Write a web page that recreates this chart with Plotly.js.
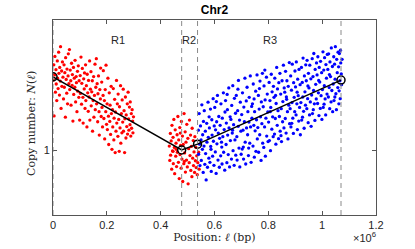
<!DOCTYPE html>
<html>
<head>
<meta charset="utf-8">
<script src="https://cdn.plot.ly/plotly-3.0.1.min.js"></script>
<style>html,body{margin:0;padding:0;background:#fff;}#chart{width:415px;height:249px;}</style>
</head>
<body>
<div id="chart"></div>
<script>
// Positions in units of 10^6 bp; copy number values
const r1 = [[0.001,1.215],[0.003,1.262],[0.004,1.105],[0.006,1.231],[0.007,1.288],[0.009,1.178],[0.011,1.247],[0.012,1.203],[0.014,1.152],[0.016,1.274],[0.017,1.221],[0.019,1.189],
[0.021,1.301],[0.022,1.236],[0.024,1.169],[0.025,1.254],[0.027,1.212],[0.028,1.318],[0.030,1.128],[0.032,1.243],[0.033,1.196],[0.035,1.271],[0.037,1.224],[0.039,1.157],
[0.041,1.262],[0.042,1.193],[0.044,1.238],[0.046,1.101],[0.047,1.284],[0.049,1.217],[0.051,1.175],[0.052,1.249],[0.054,1.142],[0.056,1.228],[0.057,1.296],[0.059,1.204],
[0.061,1.309],[0.062,1.186],[0.064,1.246],[0.066,1.213],[0.067,1.138],[0.069,1.267],[0.071,1.199],[0.072,1.232],[0.074,1.089],[0.076,1.254],[0.077,1.171],[0.079,1.221],
[0.081,1.193],[0.082,1.276],[0.084,1.148],[0.086,1.226],[0.087,1.207],[0.089,1.118],[0.091,1.242],[0.092,1.181],[0.094,1.259],[0.096,1.162],[0.097,1.213],[0.099,1.092],
[0.101,1.229],[0.102,1.174],[0.104,1.286],[0.106,1.141],[0.107,1.205],[0.109,1.251],[0.111,1.162],[0.112,1.083],[0.114,1.219],[0.116,1.188],[0.117,1.237],[0.119,1.128],
[0.121,1.262],[0.122,1.152],[0.124,1.198],[0.126,1.071],[0.127,1.233],[0.129,1.176],[0.131,1.119],[0.132,1.214],[0.134,1.163],[0.136,1.274],[0.137,1.092],[0.139,1.187],
[0.141,1.241],[0.142,1.136],[0.144,1.179],[0.146,1.213],[0.147,1.058],[0.149,1.152],[0.151,1.226],[0.152,1.101],[0.154,1.168],[0.156,1.264],[0.157,1.124],[0.159,1.193],
[0.161,1.281],[0.162,1.142],[0.164,1.204],[0.166,1.087],[0.167,1.173],[0.169,1.228],[0.171,1.118],[0.172,1.046],[0.174,1.186],[0.176,1.157],[0.177,1.252],[0.179,1.103],
[0.181,1.209],[0.182,1.131],[0.184,1.071],[0.186,1.168],[0.187,1.244],[0.189,1.097],[0.191,1.152],[0.192,1.034],[0.194,1.186],[0.196,1.118],[0.197,1.261],[0.199,1.079],
[0.201,1.142],[0.202,1.063],[0.204,1.221],[0.206,1.104],[0.207,1.017],[0.209,1.176],[0.211,1.088],[0.212,1.138],[0.214,1.048],[0.216,1.196],[0.217,1.112],[0.219,1.002],
[0.221,1.124],[0.222,1.071],[0.224,1.189],[0.226,1.031],[0.227,1.098],[0.229,1.156],[0.231,0.992],[0.232,1.117],[0.234,1.058],[0.236,1.214],[0.237,1.083],[0.239,1.142],
[0.241,1.042],[0.242,1.172],[0.244,1.094],[0.246,0.996],[0.247,1.133],[0.249,1.068],[0.251,1.198],[0.252,1.021],[0.254,1.112],[0.256,1.053],[0.257,1.154],[0.259,1.086],
[0.261,1.187],[0.262,1.058],[0.264,1.121],[0.266,0.992],[0.267,1.096],[0.269,1.163],[0.271,1.037],[0.272,1.108],[0.274,1.072],[0.276,1.142],[0.277,1.049],[0.279,1.178],
[0.281,1.096],[0.282,1.061],[0.284,1.132],[0.286,1.078],[0.287,1.148],[0.289,1.043],[0.291,1.112],[0.292,1.067],[0.294,1.124],[0.296,1.089],[0.297,1.053],[0.299,1.102]];

const r2 = [[0.432,1.012],[0.434,0.968],[0.436,1.051],[0.437,0.984],[0.439,1.028],[0.441,0.941],[0.442,1.076],[0.444,0.997],[0.446,1.039],[0.447,0.958],[0.449,1.094],[0.451,1.008],[0.452,0.927],[0.454,1.062],[0.456,0.981],[0.457,1.021],[0.459,0.949],[0.461,1.047],[0.462,0.993],[0.464,1.103],[0.466,0.962],[0.467,1.031],[0.469,0.912],[0.471,1.069],[0.472,0.986],[0.474,1.014],[0.476,0.944],[0.477,1.088],[0.479,0.972],[0.481,1.043],[0.482,0.903],[0.484,1.017],[0.486,0.958],[0.487,1.112],[0.489,0.991],[0.491,1.056],[0.492,0.932],[0.494,1.024],[0.496,0.969],[0.497,1.079],[0.499,0.948],[0.501,1.036],[0.502,0.896],[0.504,1.004],[0.506,0.961],[0.507,1.092],[0.509,0.983],[0.511,1.046],[0.512,0.937],[0.514,1.011],[0.516,0.918],[0.517,1.067],[0.519,0.975],[0.521,1.029],[0.522,0.952],[0.524,0.994],[0.526,0.931],[0.527,1.041],[0.529,0.967],[0.531,1.008],[0.532,0.946],[0.534,0.982],[0.536,0.924],[0.538,0.961],[0.541,0.993],[0.543,0.941],[0.446,0.996],[0.458,1.002],[0.473,1.052],[0.488,0.965]];

const r3 = [[0.540,1.061],[0.541,0.987],[0.543,1.112],[0.545,1.018],[0.546,0.952],[0.548,1.074],[0.550,1.031],[0.551,0.968],[0.553,1.139],[0.555,1.002],[0.556,1.047],[0.558,0.931],[0.559,1.088],
[0.561,1.012],[0.562,1.121],[0.564,0.956],[0.566,1.058],[0.567,0.989],[0.569,0.908],[0.571,1.082],[0.572,1.024],[0.574,0.947],[0.576,1.147],[0.577,1.039],[0.579,0.975],[0.580,1.102],
[0.581,1.068],[0.583,0.962],[0.585,1.126],[0.586,1.011],[0.588,0.934],[0.590,1.093],[0.591,1.046],[0.593,0.981],[0.595,1.158],[0.596,1.027],[0.598,0.953],[0.599,1.074],[0.587,1.002],
[0.601,1.131],[0.603,0.994],[0.604,1.062],[0.606,0.928],[0.608,1.087],[0.609,1.019],[0.611,1.168],[0.613,0.969],[0.614,1.052],[0.616,1.103],[0.618,0.947],[0.619,1.036],[0.607,1.149],
[0.621,1.076],[0.623,0.982],[0.624,1.142],[0.626,1.024],[0.628,0.957],[0.629,1.098],[0.631,1.041],[0.633,1.176],[0.634,0.993],[0.636,1.063],[0.638,0.938],[0.639,1.117],[0.627,1.009],
[0.641,1.152],[0.643,1.017],[0.644,1.083],[0.646,0.961],[0.648,1.124],[0.649,1.046],[0.651,0.986],[0.653,1.191],[0.654,1.068],[0.656,0.948],[0.658,1.102],[0.659,1.029],[0.647,1.171],
[0.661,1.094],[0.663,0.972],[0.664,1.137],[0.666,1.052],[0.668,1.198],[0.669,0.998],[0.671,1.078],[0.673,0.953],[0.674,1.159],[0.676,1.031],[0.678,1.113],[0.679,0.984],[0.667,1.061],
[0.681,1.168],[0.683,1.041],[0.684,0.969],[0.686,1.121],[0.688,1.073],[0.689,1.214],[0.691,1.006],[0.693,1.092],[0.694,0.948],[0.696,1.147],[0.698,1.058],[0.699,0.987],[0.687,1.187],
[0.701,1.109],[0.703,1.003],[0.704,1.176],[0.706,1.061],[0.708,0.972],[0.709,1.132],[0.711,1.087],[0.713,1.221],[0.714,1.024],[0.716,0.957],[0.718,1.151],[0.719,1.068],[0.707,1.009],
[0.721,1.193],[0.723,1.047],[0.724,1.118],[0.726,0.983],[0.728,1.086],[0.729,1.162],[0.731,1.021],[0.733,1.228],[0.734,1.071],[0.736,0.962],[0.738,1.134],[0.739,1.098],[0.727,1.006],
[0.741,1.142],[0.743,1.012],[0.744,1.203],[0.746,1.076],[0.748,0.978],[0.749,1.118],[0.751,1.059],[0.753,1.181],[0.754,0.996],[0.756,1.093],[0.758,1.231],[0.759,1.034],[0.747,1.157],
[0.761,1.069],[0.763,1.168],[0.764,0.993],[0.766,1.126],[0.768,1.047],[0.769,1.212],[0.771,1.102],[0.773,0.968],[0.774,1.148],[0.776,1.081],[0.778,1.236],[0.779,1.021],[0.767,1.189],
[0.781,1.133],[0.783,1.008],[0.784,1.197],[0.786,1.071],[0.788,1.154],[0.789,0.981],[0.791,1.098],[0.793,1.224],[0.794,1.043],[0.796,1.172],[0.798,1.117],[0.799,1.026],[0.787,1.246],
[0.801,1.086],[0.803,1.208],[0.804,1.029],[0.806,1.152],[0.808,0.998],[0.809,1.131],[0.811,1.233],[0.813,1.064],[0.814,1.179],[0.816,1.102],[0.818,1.041],[0.819,1.196],[0.807,1.118],
[0.821,1.162],[0.823,1.049],[0.824,1.221],[0.826,1.097],[0.828,1.018],[0.829,1.143],[0.831,1.254],[0.833,1.076],[0.834,1.188],[0.836,1.121],[0.838,1.035],[0.839,1.207],[0.827,1.168],
[0.841,1.103],[0.843,1.236],[0.844,1.058],[0.846,1.172],[0.848,1.127],[0.849,1.026],[0.851,1.213],[0.853,1.087],[0.854,1.149],[0.856,1.261],[0.858,1.068],[0.859,1.191],[0.847,1.044],
[0.861,1.178],[0.863,1.097],[0.864,1.242],[0.866,1.052],[0.868,1.156],[0.869,1.213],[0.871,1.118],[0.873,1.034],[0.874,1.196],[0.876,1.138],[0.878,1.269],[0.879,1.081],[0.867,1.163],
[0.881,1.127],[0.883,1.228],[0.884,1.071],[0.886,1.184],[0.888,1.146],[0.889,1.264],[0.891,1.098],[0.893,1.051],[0.894,1.207],[0.896,1.162],[0.898,1.118],[0.899,1.243],[0.887,1.082],
[0.901,1.194],[0.903,1.108],[0.904,1.271],[0.906,1.142],[0.908,1.063],[0.909,1.218],[0.911,1.167],[0.913,1.089],[0.914,1.248],[0.916,1.131],[0.918,1.201],[0.919,1.047],[0.907,1.178],
[0.921,1.146],[0.923,1.254],[0.924,1.092],[0.926,1.208],[0.928,1.163],[0.929,1.283],[0.931,1.119],[0.933,1.067],[0.934,1.228],[0.936,1.179],[0.938,1.138],[0.939,1.262],[0.927,1.101],
[0.941,1.213],[0.943,1.127],[0.944,1.276],[0.946,1.158],[0.948,1.084],[0.949,1.236],[0.951,1.191],[0.953,1.108],[0.954,1.261],[0.956,1.148],[0.958,1.219],[0.959,1.073],[0.947,1.197],
[0.961,1.169],[0.963,1.281],[0.964,1.112],[0.966,1.226],[0.968,1.183],[0.969,1.297],[0.971,1.142],[0.973,1.091],[0.974,1.248],[0.976,1.202],[0.978,1.157],[0.979,1.268],[0.967,1.124],
[0.981,1.231],[0.983,1.143],[0.984,1.287],[0.986,1.176],[0.988,1.106],[0.989,1.254],[0.991,1.209],[0.993,1.128],[0.994,1.273],[0.996,1.167],[0.998,1.238],[0.999,1.094],[0.987,1.214],
[1.001,1.186],[1.003,1.302],[1.004,1.131],[1.006,1.246],[1.008,1.198],[1.009,1.284],[1.011,1.157],[1.013,1.108],[1.014,1.263],[1.016,1.221],[1.018,1.172],[1.019,1.294],[1.007,1.141],
[1.021,1.248],[1.023,1.163],[1.024,1.296],[1.026,1.192],[1.028,1.127],[1.029,1.271],[1.031,1.226],[1.033,1.148],[1.034,1.314],[1.036,1.183],[1.038,1.257],[1.039,1.118],[1.027,1.232],
[1.041,1.203],[1.043,1.287],[1.044,1.152],[1.046,1.264],[1.048,1.218],[1.049,1.318],[1.051,1.173],[1.053,1.124],[1.054,1.279],[1.056,1.238],[1.058,1.192],[1.059,1.301],[1.047,1.163],
[1.061,1.256],[1.063,1.182],[1.064,1.297],[1.066,1.213],[1.067,1.158],[1.069,1.268],[1.071,1.234],[1.072,1.201],[1.074,1.279],[1.062,1.142],[1.068,1.307]];

// Fitted piecewise-linear profile
const fitX = [0, 0.478, 0.537, 1.07];
const fitY = [1.225, 1.0, 1.018, 1.215];
// Region boundaries and labels
const boundaries = [0, 0.478, 0.537, 1.07];
const regionLabels = ['R1', 'R2', 'R3'];
const regionLabelX = [0.24, 0.505, 0.805];
const xTicks = [0, 0.2, 0.4, 0.6, 0.8, 1, 1.2];
const xTickText = ['0', '0.2', '0.4', '0.6', '0.8', '1', '1.2'];
const yTicks = [1];
const yTickText = ['1'];

const sans = 'Liberation Sans, Arial, sans-serif';
const serif = 'DejaVu Serif, Liberation Serif, serif';
const dotMarker = c => ({color: c, size: 3.3, symbol: 'circle', line: {width: 0}});
const traces = [
  {x: r1.map(p => p[0]), y: r1.map(p => p[1]), mode: 'markers', type: 'scatter', marker: dotMarker('#ff0000'), hoverinfo: 'skip'},
  {x: r2.map(p => p[0]), y: r2.map(p => p[1]), mode: 'markers', type: 'scatter', marker: dotMarker('#ff0000'), hoverinfo: 'skip'},
  {x: r3.map(p => p[0]), y: r3.map(p => p[1]), mode: 'markers', type: 'scatter', marker: dotMarker('#0000ff'), hoverinfo: 'skip'},
  {x: fitX, y: fitY, mode: 'lines+markers', type: 'scatter', line: {color: '#000', width: 1.5},
   marker: {symbol: 'circle-open', size: 8, color: '#000', line: {width: 1.5, color: '#000'}}, hoverinfo: 'skip'}
];

const shapes = boundaries.map(b => ({type: 'line', xref: 'x', yref: 'paper', x0: b, x1: b, y0: 0, y1: 1,
  line: {color: '#8a8a8a', width: 1, dash: '5px,4px'}}));

const annotations = regionLabels.map((t, i) => ({text: t, x: regionLabelX[i], y: 0.94, xref: 'x', yref: 'paper',
  showarrow: false, font: {family: sans, size: 11, color: '#262626'}}));
annotations.push({text: '×10<sup>6</sup>', xref: 'paper', yref: 'paper', x: 1.005, y: -0.115, xanchor: 'right', yanchor: 'middle',
  showarrow: false, font: {family: sans, size: 11, color: '#262626'}});
annotations.push({text: 'Copy number: <i>N</i>(<i>ℓ</i>)', xref: 'paper', yref: 'paper', x: -0.066, y: 0.47,
  xanchor: 'center', yanchor: 'middle', textangle: -90, showarrow: false, font: {family: serif, size: 11, color: '#262626'}});

const axisCommon = {showgrid: false, zeroline: false, showline: true, linecolor: '#555', linewidth: 1,
  mirror: 'ticks', ticks: 'inside', ticklen: 4, tickcolor: '#555', tickwidth: 1,
  tickfont: {family: sans, size: 11, color: '#262626'}};

const layout = {
  width: 415, height: 249,
  margin: {l: 53, r: 39, t: 20, b: 34},
  paper_bgcolor: '#fff', plot_bgcolor: '#fff',
  showlegend: false,
  title: {text: '<b>Chr2</b>', x: 0.5, xref: 'paper', xanchor: 'center', y: 1 - 10/249, yref: 'container', yanchor: 'middle',
    font: {family: sans, size: 12, color: '#000'}},
  xaxis: Object.assign({}, axisCommon, {range: [0, 1.2], tickmode: 'array', tickvals: xTicks, ticktext: xTickText,
    title: {text: 'Position: <i>ℓ</i> (bp)', standoff: 2, font: {family: serif, size: 11, color: '#262626'}}}),
  yaxis: Object.assign({}, axisCommon, {range: [0.8, 1.4], tickmode: 'array', tickvals: yTicks, ticktext: yTickText}),
  shapes: shapes,
  annotations: annotations
};

Plotly.newPlot('chart', traces, layout, {staticPlot: true, displayModeBar: false});
</script>
</body>
</html>
